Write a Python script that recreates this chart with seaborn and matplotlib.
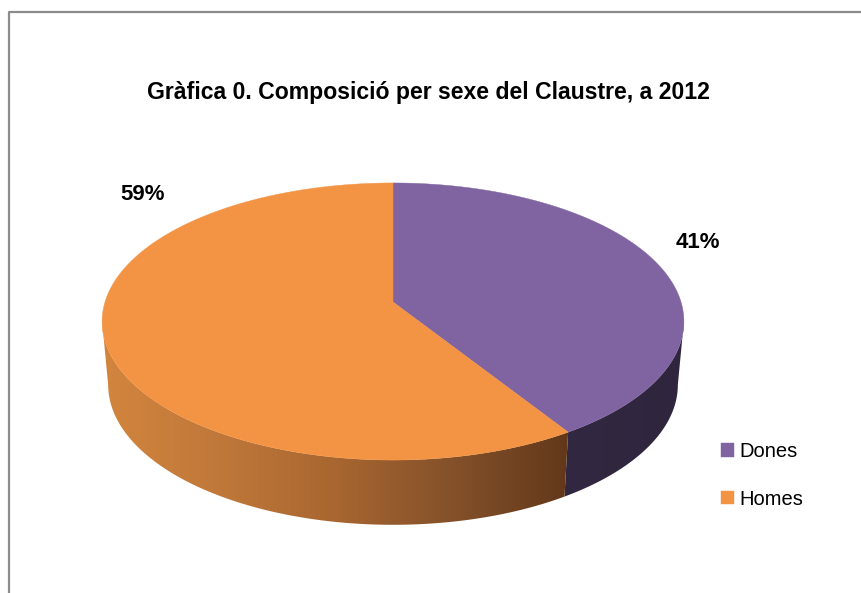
import numpy as np
import seaborn as sns
import matplotlib
matplotlib.use("Agg")
import matplotlib.pyplot as plt
from matplotlib.patches import Polygon

# Data
categories = ["Dones", "Homes"]
shares = [41, 59]
title = "Gràfica 0. Composició per sexe del Claustre, a 2012"

sns.set_theme(style="white")
plt.rcParams["font.family"] = ["Liberation Sans", "DejaVu Sans"]

top_colors = ["#8064A2", "#F39445"]
wall_colors = [["#322841", "#2F263E"], ["#D2853D", "#C0783A", "#A86630", "#84512A", "#62381A"]]

fig = plt.figure(figsize=(8.62, 5.93), dpi=100)
ax = fig.add_axes([0, 0, 1, 1])

# the pie gives the slice angles, they get projected by hand for the 3d look
wedges, _ = ax.pie(shares, startangle=90, counterclock=False)
angles = [(w.theta1, w.theta2) for w in wedges]
for w in wedges:
    w.remove()

ax.set_aspect("auto")
ax.set_xlim(0, 862)
ax.set_ylim(593, 0)
ax.axis("off")
ax.set_frame_on(False)

K = 0.1408
CX = 393


def project(theta, apex_y, a, b):
    t = np.radians(theta)
    u, v = np.cos(t), np.sin(t)
    w = 1 + K * v
    return CX + b * u / w, apex_y - a * v / w


TOP = dict(apex_y=302, a=135.8, b=288)
LOW = dict(apex_y=365, a=137.3, b=282)
SIDE = np.degrees(np.arcsin(K))

# side wall, only the front part of the rim shows
for (t1, t2), stops in zip(angles, wall_colors):
    lo = max(t1, -180 + SIDE)
    hi = min(t2, -SIDE)
    th = np.linspace(lo, hi, 200)
    x1, y1 = project(th, **TOP)
    x2, y2 = project(th, **LOW)
    pts = np.column_stack([np.r_[x1, x2[::-1]], np.r_[y1, y2[::-1]]])
    wall = Polygon(pts, closed=True, transform=ax.transData, fc="none", ec="none")
    ax.add_patch(wall)
    grad = sns.blend_palette(stops, 256)
    img = ax.imshow(
        np.array(grad)[None, :, :],
        extent=(pts[:, 0].min(), pts[:, 0].max(), pts[:, 1].max(), pts[:, 1].min()),
        aspect="auto",
        interpolation="bilinear",
        zorder=1,
    )
    img.set_clip_path(wall)

# top face
handles = []
for (t1, t2), color, name in zip(angles, top_colors, categories):
    th = np.linspace(t1, t2, 300)
    x, y = project(th, **TOP)
    pts = np.column_stack([np.r_[CX, x], np.r_[302, y]])
    face = Polygon(pts, closed=True, fc=color, ec=color, lw=0.3, zorder=2, label=name)
    ax.add_patch(face)
    handles.append(face)

ax.set_xlim(0, 862)
ax.set_ylim(593, 0)

# chart area border, cropped at right and bottom
ax.plot([9, 9, 862], [593, 12, 12], color="#8C8C8C", lw=1.6, clip_on=False, zorder=3)

ax.text(428, 93, title, ha="center", va="center", fontsize=16.6, fontweight="bold", color="black")
ax.text(698, 242, f"{shares[0]}%", ha="center", va="center", fontsize=16, fontweight="bold", color="black")
ax.text(143, 195, f"{shares[1]}%", ha="center", va="center", fontsize=16, fontweight="bold", color="black")

ax.legend(
    handles=handles,
    loc="upper left",
    bbox_to_anchor=(715 / 862, 1 - 436 / 593),
    frameon=False,
    fontsize=14.5,
    labelcolor="black",
    handlelength=0.65,
    handleheight=0.65,
    handletextpad=0.25,
    labelspacing=1.42,
    borderpad=0.3,
    borderaxespad=0,
)

fig.savefig("out.png", dpi=100)
